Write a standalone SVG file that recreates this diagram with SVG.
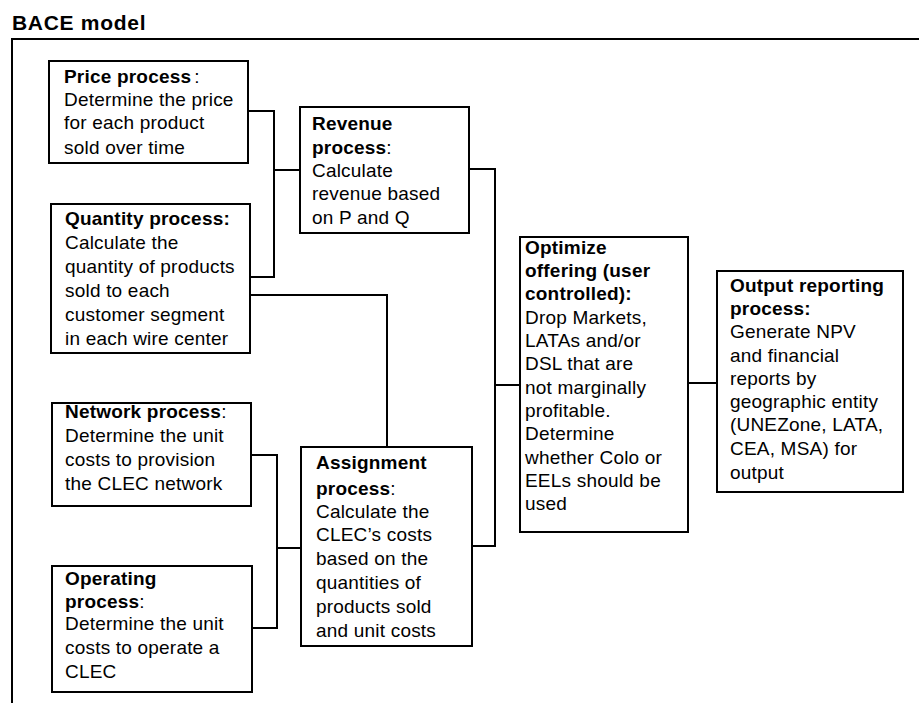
<svg xmlns="http://www.w3.org/2000/svg" width="919" height="703" viewBox="0 0 919 703">
<style>
.box{fill:#fff;stroke:#000;stroke-width:2}
.t{font-family:"Liberation Sans",Arial,sans-serif;font-size:19px;letter-spacing:0.2px;fill:#000}
.b{font-weight:bold}
.c{fill:none;stroke:#000;stroke-width:2}
.title{font-family:"Liberation Sans",Arial,sans-serif;font-size:21px;font-weight:bold;letter-spacing:0.7px;fill:#000}
</style>
<rect width="919" height="703" fill="#fff"/>
<text class="title" x="12" y="30">BACE model</text>
<path class="c" d="M11 39 H919 M12 39 V703"/>
<g id="connectors">
<path class="c" d="M248 111 H274 V277 H250 M274 170 H300"/>
<path class="c" d="M469 169 H495 V546 H472 M495 385 H520"/>
<path class="c" d="M250 295 H387 V447"/>
<path class="c" d="M251 455 H277 V628 H252 M277 548 H301"/>
<path class="c" d="M688 383 H717"/>
</g>
<g id="price">
<rect class="box" x="49" y="61" width="199" height="102"/>
<text class="t" x="64" y="83"><tspan class="b">Price process</tspan><tspan dx="3">:</tspan></text>
<text class="t" x="64" y="106">Determine the price</text>
<text class="t" x="64" y="129">for each product</text>
<text class="t" x="64" y="154">sold over time</text>
</g>
<g id="quantity">
<rect class="box" x="51" y="204" width="199" height="149"/>
<text class="t b" x="65" y="225">Quantity process:</text>
<text class="t" x="65" y="249">Calculate the</text>
<text class="t" x="65" y="273">quantity of products</text>
<text class="t" x="65" y="297">sold to each</text>
<text class="t" x="65" y="321">customer segment</text>
<text class="t" x="65" y="345">in each wire center</text>
</g>
<g id="revenue">
<rect class="box" x="300" y="107" width="169" height="126"/>
<text class="t b" x="312" y="130">Revenue</text>
<text class="t" x="312" y="154"><tspan class="b">process</tspan>:</text>
<text class="t" x="312" y="177">Calculate</text>
<text class="t" x="312" y="200">revenue based</text>
<text class="t" x="312" y="224">on P and Q</text>
</g>
<g id="network">
<rect class="box" x="52" y="403" width="199" height="103"/>
<text class="t" x="65" y="418"><tspan class="b">Network process</tspan>:</text>
<text class="t" x="65" y="442">Determine the unit</text>
<text class="t" x="65" y="466">costs to provision</text>
<text class="t" x="65" y="490">the CLEC network</text>
</g>
<g id="operating">
<rect class="box" x="52" y="566" width="200" height="126"/>
<text class="t b" x="65" y="585">Operating</text>
<text class="t" x="65" y="608"><tspan class="b">process</tspan>:</text>
<text class="t" x="65" y="630">Determine the unit</text>
<text class="t" x="65" y="654">costs to operate a</text>
<text class="t" x="65" y="678">CLEC</text>
</g>
<g id="assignment">
<rect class="box" x="301" y="447" width="171" height="199"/>
<text class="t b" x="316" y="469">Assignment</text>
<text class="t" x="316" y="495"><tspan class="b">process</tspan>:</text>
<text class="t" x="316" y="518">Calculate the</text>
<text class="t" x="316" y="541">CLEC’s costs</text>
<text class="t" x="316" y="565">based on the</text>
<text class="t" x="316" y="589">quantities of</text>
<text class="t" x="316" y="613">products sold</text>
<text class="t" x="316" y="637">and unit costs</text>
</g>
<g id="optimize">
<rect class="box" x="520" y="237" width="168" height="295"/>
<text class="t b" x="525" y="254">Optimize</text>
<text class="t b" x="525" y="277">offering (user</text>
<text class="t b" x="525" y="300">controlled):</text>
<text class="t" x="525" y="324">Drop Markets,</text>
<text class="t" x="525" y="347">LATAs and/or</text>
<text class="t" x="525" y="370">DSL that are</text>
<text class="t" x="525" y="394">not marginally</text>
<text class="t" x="525" y="417">profitable.</text>
<text class="t" x="525" y="440">Determine</text>
<text class="t" x="525" y="464">whether Colo or</text>
<text class="t" x="525" y="487">EELs should be</text>
<text class="t" x="525" y="510">used</text>
</g>
<g id="output">
<rect class="box" x="717" y="271" width="186" height="221"/>
<text class="t b" x="730" y="292">Output reporting</text>
<text class="t b" x="730" y="315">process:</text>
<text class="t" x="730" y="338">Generate NPV</text>
<text class="t" x="730" y="362">and financial</text>
<text class="t" x="730" y="385">reports by</text>
<text class="t" x="730" y="408">geographic entity</text>
<text class="t" x="730" y="431">(UNEZone, LATA,</text>
<text class="t" x="730" y="455">CEA, MSA) for</text>
<text class="t" x="730" y="479">output</text>
</g>
</svg>
